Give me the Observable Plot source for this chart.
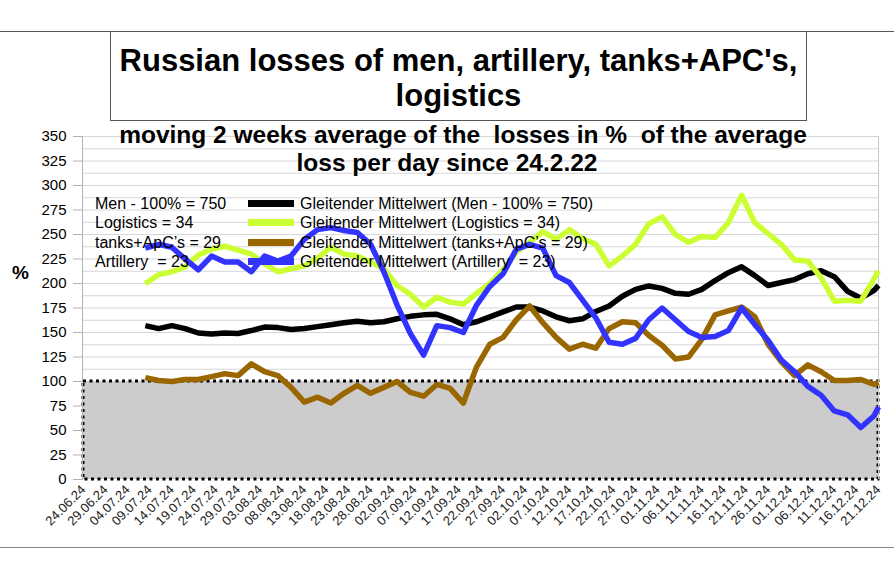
<!DOCTYPE html>
<html>
<head>
<meta charset="utf-8">
<script src="https://cdn.jsdelivr.net/npm/d3@7"></script>
<script src="https://cdn.jsdelivr.net/npm/@observablehq/plot@0.6"></script>
<style>
  body { margin: 0; background: #fff; font-family: "Liberation Sans", Arial, sans-serif; }
  #wrap { position: relative; width: 894px; height: 562px; overflow: hidden; background: #fff; }
  #chart { position: absolute; left: 0; top: 0; }
  .hline { position: absolute; left: 0; width: 894px; height: 0; }
  #title { position: absolute; left: 110px; top: 31px; width: 697px; height: 90px; box-sizing: border-box;
           border: 1px solid #555; background: #fff; font-weight: bold; font-size: 31px; line-height: 35px;
           text-align: center; padding-top: 11px; color: #000; }
  .sub { position: absolute; width: 800px; text-align: center; font-weight: bold; font-size: 24.5px;
         line-height: 28px; white-space: pre; color: #000; }
  .leg { position: absolute; font-size: 16px; line-height: 19px; white-space: pre; color: #000; }
  .sw { position: absolute; width: 46px; height: 7px; }
  #pct { position: absolute; left: 12px; top: 261px; font-weight: bold; font-size: 19px; line-height: 24px; }
</style>
</head>
<body>
<div id="wrap">
  <div id="chart"></div>
  <div class="hline" style="top:31px;border-top:1px solid #555;"></div>
  <div class="hline" style="top:547px;border-top:1px solid #888;"></div>
  <div id="title">Russian losses of men, artillery, tanks+APC's,<br>logistics</div>
  <div class="sub" style="left:63px;top:121px;">moving 2 weeks average of the  losses in %  of the average</div>
  <div class="sub" style="left:47px;top:149px;">loss per day since 24.2.22</div>
  <div id="pct">%</div>
  <div id="legend"></div>
</div>
<script>
// ---- data ----
const dates = [
  "2024-07-08","2024-07-11","2024-07-14","2024-07-17","2024-07-20","2024-07-23","2024-07-26","2024-07-29",
  "2024-08-01","2024-08-04","2024-08-07","2024-08-10","2024-08-13","2024-08-16","2024-08-19","2024-08-22",
  "2024-08-25","2024-08-28","2024-08-31","2024-09-03","2024-09-06","2024-09-09","2024-09-12","2024-09-15",
  "2024-09-18","2024-09-21","2024-09-24","2024-09-27","2024-09-30","2024-10-03","2024-10-06","2024-10-09",
  "2024-10-12","2024-10-15","2024-10-18","2024-10-21","2024-10-24","2024-10-27","2024-10-30","2024-11-02",
  "2024-11-05","2024-11-08","2024-11-11","2024-11-14","2024-11-17","2024-11-20","2024-11-23","2024-11-26",
  "2024-11-29","2024-12-02","2024-12-05","2024-12-08","2024-12-11","2024-12-14","2024-12-17","2024-12-20",
  "2024-12-21"
];
const men = [157,154,157,154,149.5,148.5,149.5,149,152,155.5,155,153,154,156,158,160,161.5,160,161,164,166.5,168,168.5,164,
  158,161,166,171,176,176,172,166,162,164,171.5,177,187,194,197.5,195,190,189,194,203,211,217,208,198,201,204,210,213,207,192,185,193,198];
const logistics = [200,209,212,217,229,235,238,234,230,220,212,215,218,226,237,230,228,222,215,198,189,176,186,181,
  179,190,200,214,232,242,253,245,255,246,240,218,228,240,261,268,250,242,248,247,262,290,262,251,240,224,223,206,182,183,182,205,213];
const tanks = [104,101,100,102,102,105,108,106,118,110,106,94,79,84,78,88,96,88,94,100,89,85,97,93,
  78,115,138,145,163,177,160,145,133,138,134,154,161,160,147,137,123,125,143,168,172,176,166,138,120,106,117,110,101,101,102,97,99];
const artillery = [236,240,237,225,214,228,222,222,212,228,223,228,245,255,257,254,252,240,212,178,149,127,157,155,
  150,178,197,210,235,240,236,208,201,183,165,140,138,144,163,175,163,151,145,146,152,175,158,142,122,110,95,86,70,66,53,65,74];

const seriesNames = [
  "Gleitender Mittelwert (Men - 100% = 750)",
  "Gleitender Mittelwert (Logistics = 34)",
  "Gleitender Mittelwert (tanks+ApC’s = 29)",
  "Gleitender Mittelwert (Artillery  = 23)"
];
const legendLeft = ["Men - 100% = 750", "Logistics = 34", "tanks+ApC’s = 29", "Artillery  = 23"];
const seriesColors = ["#000000", "#ccff33", "#996600", "#3333ff"];
const seriesValues = [men, logistics, tanks, artillery];

const tickLabels = ["24.06.24","29.06.24","04.07.24","09.07.24","14.07.24","19.07.24","24.07.24","29.07.24",
  "03.08.24","08.08.24","13.08.24","18.08.24","23.08.24","28.08.24","02.09.24","07.09.24","12.09.24","17.09.24",
  "22.09.24","27.09.24","02.10.24","07.10.24","12.10.24","17.10.24","22.10.24","27.10.24","01.11.24","06.11.24",
  "11.11.24","16.11.24","21.11.24","26.11.24","01.12.24","06.12.24","11.12.24","16.12.24","21.12.24"];
const yTicks = [0,25,50,75,100,125,150,175,200,225,250,275,300,325,350];
const baselineBand = [0, 100];

// ---- build ----
const parseTick = d3.utcParse("%d.%m.%y");
const tickDates = tickLabels.map(parseTick);
const x0 = tickDates[0], x1 = tickDates[tickDates.length - 1];

const rows = [];
seriesValues.forEach((vals, s) => {
  vals.forEach((v, i) => rows.push({date: new Date(dates[i] + "T00:00:00Z"), value: v, series: seriesNames[s]}));
});

const gridLevels = d3.range(12.5, 350.1, 12.5);
const band = [{a: x0, b: x1, lo: baselineBand[0], hi: baselineBand[1]}];

const chart = Plot.plot({
  width: 894,
  height: 562,
  marginLeft: 83,
  marginRight: 16,
  marginTop: 136,
  marginBottom: 83,
  style: {fontFamily: "'Liberation Sans', Arial, sans-serif", fontSize: "15px", background: "transparent", color: "#000"},
  x: {type: "utc", domain: [x0, x1]},
  y: {domain: [0, 350]},
  color: {domain: seriesNames, range: seriesColors},
  marks: [
    Plot.ruleY(gridLevels, {stroke: "#d6d6d6", strokeWidth: 1}),
    Plot.rect(band, {x1: "a", x2: "b", y1: "lo", y2: "hi", fill: "#cccccc"}),
    Plot.rect(band, {x1: "a", x2: "b", y1: "lo", y2: "hi", fill: "none", stroke: "#000", strokeWidth: 3, strokeDasharray: "3,3.5"}),
    Plot.ruleX([x1], {stroke: "#c8c8c8"}),
    Plot.line(rows, {x: "date", y: "value", z: "series", stroke: "series", strokeWidth: 5.5, strokeLinejoin: "round", strokeLinecap: "butt"}),
    Plot.axisY({ticks: yTicks, tickSize: 10, tickPadding: 7, stroke: "#b3b3b3", fontSize: 15, label: null, fill: "#000"}),
    Plot.ruleX([x0], {stroke: "#b3b3b3", dx: -1}),
    Plot.axisX({ticks: tickDates, tickFormat: (d, i) => tickLabels[i], tickRotate: -45, tickSize: 0, tickPadding: 8,
                fontSize: 13, label: null, fill: "#222"})
  ]
});
document.getElementById("chart").appendChild(chart);

// legend (inside plot area, as in reference)
const legend = document.getElementById("legend");
const rowCenters = [203, 222.5, 242, 261];
legendLeft.forEach((t, i) => {
  const a = document.createElement("div");
  a.className = "leg"; a.textContent = t;
  a.style.left = "95px"; a.style.top = (rowCenters[i] - 9.5) + "px";
  legend.appendChild(a);
  const sw = document.createElement("div");
  sw.className = "sw"; sw.style.background = seriesColors[i];
  sw.style.left = "248px"; sw.style.top = (rowCenters[i] - 3.5) + "px";
  legend.appendChild(sw);
  const b = document.createElement("div");
  b.className = "leg"; b.textContent = seriesNames[i];
  b.style.left = "300px"; b.style.top = (rowCenters[i] - 9.5) + "px";
  legend.appendChild(b);
});
</script>
</body>
</html>
